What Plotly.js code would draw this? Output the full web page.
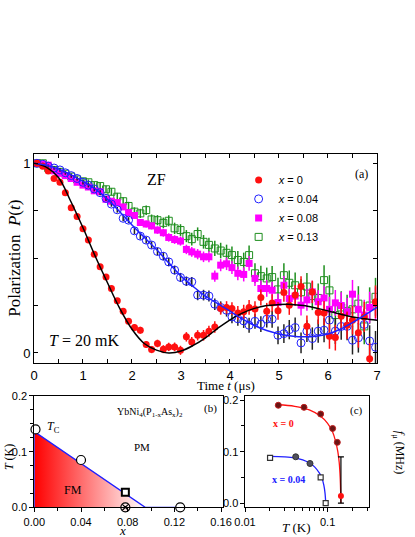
<!DOCTYPE html>
<html>
<head>
<meta charset="utf-8">
<script src="https://cdn.plot.ly/plotly-3.0.1.min.js"></script>
<style>
  html, body { margin: 0; padding: 0; background: #fff; }
  #chart { width: 415px; height: 537px; }
</style>
</head>
<body>
<div id="chart"></div>
<script>
// ---- panel (a): ZF muSR polarization at T = 20 mK ----
const tMu = [0.06,0.18,0.29,0.41,0.53,0.64,0.76,0.88,1.00,1.11,
             1.23,1.35,1.47,1.58,1.70,1.82,1.93,2.05,2.17,2.29,
             2.40,2.52,2.64,2.75,2.87,2.99,3.11,3.22,3.34,3.46,
             3.57,3.69,3.81,3.93,4.04,4.16,4.28,4.39,4.51,4.63,
             4.75,4.86,4.98,5.10,5.21,5.33,5.45,5.57,5.68,5.80,
             5.92,6.03,6.15,6.27,6.39,6.50,6.62,6.74,6.85,6.97];

const pX0 = [1.00,0.985,0.96,0.92,0.90,0.845,0.765,0.72,0.655,0.595,
             0.52,0.455,0.40,0.34,0.275,0.22,0.167,0.134,0.12,0.044,
             0.018,0.05,0.02,0.032,0.032,0.014,0.085,0.058,0.093,0.093,
             0.115,0.137,0.234,0.24,0.234,0.211,0.217,0.24,0.232,0.292,
             0.22,0.264,0.222,0.319,0.252,0.305,0.35,0.141,0.322,0.213,
             0.211,0.088,0.081,0.194,0.146,0.173,0.106,0.19,-0.03,0.27];

const pX004 = [1.00,0.995,0.985,0.975,0.965,0.95,0.935,0.92,0.90,0.885,
               0.865,0.845,0.815,0.785,0.755,0.71,0.70,0.644,0.616,0.595,
               0.569,0.535,0.51,0.48,0.437,0.398,0.378,0.375,0.305,0.305,
               0.30,0.257,0.24,0.225,0.19,0.18,0.169,0.146,0.167,0.152,
               0.178,0.178,0.093,0.102,0.123,0.134,0.053,0.115,0.076,0.115,
               0.12,0.173,0.115,0.14,0.14,0.067,0.08,0.15,0.063,0.03];

const pX008 = [1.00,0.995,0.99,0.96,0.947,0.935,0.92,0.90,0.885,0.875,
               0.855,0.85,0.81,0.80,0.793,0.77,0.74,0.725,0.688,0.68,
               0.67,0.648,0.634,0.609,0.598,0.59,0.546,0.533,0.521,0.507,
               0.507,0.405,0.463,0.47,0.45,0.42,0.414,0.472,0.393,0.34,
               0.34,0.331,0.266,0.357,0.287,0.30,0.252,0.28,0.322,0.27,
               0.29,0.23,0.264,0.25,0.217,0.31,0.23,0.20,0.24,0.26];

const pX013 = [1.00,1.00,0.975,0.965,0.955,0.945,0.93,0.915,0.905,0.90,
               0.885,0.88,0.863,0.85,0.824,0.80,0.775,0.745,0.736,0.753,
               0.704,0.70,0.686,0.697,0.657,0.648,0.616,0.60,0.627,0.586,
               0.57,0.551,0.54,0.528,0.516,0.49,0.48,0.516,0.42,0.405,
               0.393,0.40,0.335,0.41,0.37,0.357,0.32,0.35,0.30,0.29,
               0.384,0.33,0.20,0.24,0.22,0.23,0.26,0.14,0.25,0.296];

const errSmall = [0.008,0.008,0.009,0.009,0.01,0.01,0.011,0.011,0.012,0.012,
                  0.013,0.013,0.014,0.014,0.015,0.016,0.016,0.017,0.018,0.018,
                  0.019,0.02,0.021,0.022,0.023,0.024,0.025,0.026,0.027,0.028,
                  0.029,0.03,0.032,0.033,0.034,0.036,0.037,0.039,0.04,0.042,
                  0.044,0.045,0.047,0.049,0.051,0.053,0.055,0.057,0.059,0.061,
                  0.063,0.066,0.068,0.07,0.073,0.075,0.078,0.08,0.083,0.086];

const errLarge = [0.01,0.01,0.011,0.011,0.012,0.012,0.013,0.014,0.014,0.015,
                  0.016,0.017,0.018,0.019,0.02,0.021,0.022,0.023,0.024,0.025,
                  0.026,0.027,0.028,0.029,0.03,0.031,0.032,0.034,0.035,0.036,
                  0.038,0.04,0.041,0.043,0.045,0.047,0.049,0.051,0.053,0.055,
                  0.057,0.059,0.061,0.063,0.065,0.067,0.07,0.072,0.074,0.076,
                  0.078,0.08,0.083,0.085,0.087,0.09,0.092,0.094,0.096,0.1];

// fit curves
const fitT = [0,0.25,0.5,0.75,1,1.25,1.5,1.75,2,2.25,2.5,2.75,3,3.25,3.5,
              3.75,4,4.25,4.5,4.75,5,5.25,5.5,5.75,6,6.25,6.5,6.75,7];
const fitX0 = [1,0.98,0.925,0.80,0.66,0.51,0.37,0.235,0.125,0.05,0.015,0.0,0.01,0.04,0.08,
               0.13,0.175,0.21,0.235,0.25,0.255,0.256,0.25,0.237,0.222,0.205,0.19,0.18,0.172];
const fitX004 = [1,0.99,0.97,0.94,0.905,0.865,0.81,0.745,0.675,0.61,0.545,0.475,0.405,0.35,0.30,
                 0.26,0.22,0.18,0.145,0.118,0.10,0.09,0.085,0.088,0.10,0.125,0.16,0.2,0.24];

// ---- panel (b): phase diagram ----
const tcX = [0.001, 0.04, 0.125];       // open circles
const tcY = [0.14, 0.085, 0.0];
const sqX = [0.078];                    // open square
const sqY = [0.027];
const qcX = [0.078];                    // crossed circle
const qcY = [0.0];
const bndX = [0, 0, 0.095, 0.125];      // phase boundary (blue)
const bndY = [0, 0.136, 0, 0];
const fmX = [0, 0, 0.095];              // FM region
const fmY = [0, 0.136, 0];

// ---- panel (c): f_mu vs T ----
const cX0T = [0.0253, 0.0518, 0.0824, 0.115, 0.131];
const cX0F = [0.19, 0.186, 0.173, 0.145, 0.118];
const cX0LastT = [0.145];
const cX0LastF = [0.014];
const cX0LastErr = [0.076];
const cX04SqT = [0.0201, 0.0824, 0.0948];
const cX04SqF = [0.088, 0.05, 0.0];
const cX04CiT = [0.0411, 0.0612];
const cX04CiF = [0.09, 0.077];
const curveX0T = [0.025,0.04,0.06,0.08,0.1,0.115,0.125,0.133,0.138,0.142,0.144,0.145];
const curveX0F = [0.191,0.188,0.181,0.17,0.155,0.138,0.12,0.10,0.08,0.05,0.02,0.0];
const curveX04T = [0.02,0.03,0.04,0.05,0.06,0.07,0.08,0.085,0.09,0.093,0.095];
const curveX04F = [0.091,0.09,0.088,0.084,0.078,0.07,0.058,0.05,0.035,0.02,0.0];
const fTicks = [0, 0.1, 0.2];
const fTickText = ['0.0', '0.1', '0.2'];

const RED = '#ff1010', BLUE = '#2020ff', MAG = '#ff00ff', GRN = '#1f8f1f';
const SERIF = 'Liberation Serif, Times New Roman, serif';
const SANS = 'Liberation Sans, Arial, sans-serif';

const data = [
    // panel (a) data, drawn back to front
    {x: tMu, y: pX013, type: 'scatter', mode: 'markers', name: '<i>x</i> = 0.13', legendrank: 4,
     marker: {symbol: 'square-open', size: 7, color: GRN, line: {width: 1}},
     error_y: {type: 'data', array: errLarge, color: GRN, thickness: 1.5, width: 0}},
    {x: tMu, y: pX008, type: 'scatter', mode: 'markers', name: '<i>x</i> = 0.08', legendrank: 3,
     marker: {symbol: 'square', size: 7, color: MAG},
     error_y: {type: 'data', array: errSmall, color: MAG, thickness: 1.5, width: 0}},
    {x: tMu, y: pX004, type: 'scatter', mode: 'markers', name: '<i>x</i> = 0.04', legendrank: 2,
     marker: {symbol: 'circle-open', size: 8, color: BLUE, line: {width: 1}},
     error_y: {type: 'data', array: errSmall, color: '#222', thickness: 1.5, width: 0}},
    {x: tMu, y: pX0, type: 'scatter', mode: 'markers', name: '<i>x</i> = 0', legendrank: 1,
     marker: {symbol: 'circle', size: 7, color: RED},
     error_y: {type: 'data', array: errSmall, color: RED, thickness: 1.5, width: 0}},
    {x: fitT, y: fitX0, type: 'scatter', mode: 'lines', showlegend: false,
     line: {color: '#000', width: 1.5, shape: 'spline'}},
    {x: fitT, y: fitX004, type: 'scatter', mode: 'lines', showlegend: false,
     line: {color: BLUE, width: 1.5, shape: 'spline'}},

    // panel (b)
    {x: fmX, y: fmY, xaxis: 'x2', yaxis: 'y2', type: 'scatter', mode: 'none', showlegend: false,
     fill: 'toself', fillgradient: {type: 'horizontal', colorscale: [[0, '#ff0000'], [1, '#ffffff']]}},
    {x: bndX, y: bndY, xaxis: 'x2', yaxis: 'y2', type: 'scatter', mode: 'lines', showlegend: false,
     cliponaxis: false, line: {color: BLUE, width: 1.3}},
    {x: tcX, y: tcY, xaxis: 'x2', yaxis: 'y2', type: 'scatter', mode: 'markers', showlegend: false,
     cliponaxis: false, marker: {symbol: 'circle', size: 9, color: '#fff', line: {color: '#000', width: 1.2}}},
    {x: sqX, y: sqY, xaxis: 'x2', yaxis: 'y2', type: 'scatter', mode: 'markers', showlegend: false,
     cliponaxis: false, marker: {symbol: 'square', size: 7, color: '#fff', line: {color: '#000', width: 2}}},
    {x: qcX, y: qcY, xaxis: 'x2', yaxis: 'y2', type: 'scatter', mode: 'markers', showlegend: false,
     cliponaxis: false, marker: {symbol: 'circle-x', size: 9, color: '#fde8e8', line: {color: '#000', width: 1.2}}},

    // panel (c)
    {x: curveX0T, y: curveX0F, xaxis: 'x3', yaxis: 'y3', type: 'scatter', mode: 'lines', showlegend: false,
     line: {color: RED, width: 1.3, shape: 'spline'}},
    {x: curveX04T, y: curveX04F, xaxis: 'x3', yaxis: 'y3', type: 'scatter', mode: 'lines', showlegend: false,
     line: {color: BLUE, width: 1.3, shape: 'spline'}},
    {x: cX0T, y: cX0F, xaxis: 'x3', yaxis: 'y3', type: 'scatter', mode: 'markers', showlegend: false,
     marker: {symbol: 'circle', size: 6, color: '#6a1414', line: {color: '#c02020', width: 1}}},
    {x: cX0LastT, y: cX0LastF, xaxis: 'x3', yaxis: 'y3', type: 'scatter', mode: 'markers', showlegend: false,
     cliponaxis: false, marker: {symbol: 'circle', size: 6, color: RED},
     error_y: {type: 'data', symmetric: false, array: cX0LastErr, arrayminus: cX0LastF, color: '#000', thickness: 1.2, width: 3}},
    {x: cX04CiT, y: cX04CiF, xaxis: 'x3', yaxis: 'y3', type: 'scatter', mode: 'markers', showlegend: false,
     marker: {symbol: 'circle', size: 6, color: '#50505e', line: {color: '#333', width: 1}}},
    {x: cX04SqT, y: cX04SqF, xaxis: 'x3', yaxis: 'y3', type: 'scatter', mode: 'markers', showlegend: false,
     cliponaxis: false, marker: {symbol: 'square', size: 5, color: '#fff', line: {color: '#333', width: 1.2}}}
];

const axBase = {
    showline: true, linecolor: '#000', linewidth: 1, mirror: 'ticks',
    ticks: 'inside', ticklen: 4, tickcolor: '#000', showgrid: false, zeroline: false,
    tickfont: {family: SANS, size: 13, color: '#000'}
};
const minorBase = {ticks: 'inside', ticklen: 4, tickcolor: '#000', showgrid: false};
const smallAx = {mirror: true, ticks: 'outside', ticklen: 4,
                 tickfont: {family: SANS, size: 11, color: '#000'}};
const smallMinor = {ticks: 'outside', ticklen: 3, tickcolor: '#000', showgrid: false};

function ann(text, x, y, size, extra) {
    return Object.assign({text: text, x: x, y: y, xref: 'paper', yref: 'paper', showarrow: false,
                          xanchor: 'center', yanchor: 'middle',
                          font: {family: SERIF, size: size, color: '#000'}}, extra || {});
}

// tick labels of the f_mu axis, placed on that axis' own scale
const fLabels = fTicks.map((v, i) => ({
    text: fTickText[i], x: 0.5904, xref: 'paper', xanchor: 'right', xshift: -5,
    y: v, yref: 'y3', yanchor: 'middle', showarrow: false,
    font: {family: SANS, size: 11, color: '#000'}
}));

const layout = {
    width: 415, height: 537,
    margin: {l: 0, r: 0, t: 0, b: 0},
    paper_bgcolor: '#fff', plot_bgcolor: '#fff',
    showlegend: true,
    legend: {x: 0.575, y: 0.692, xanchor: 'left', yanchor: 'top', bgcolor: 'rgba(0,0,0,0)',
             font: {family: SANS, size: 11, color: '#000'}, itemwidth: 30, tracegroupgap: 0},
    xaxis: Object.assign({}, axBase, {domain: [0.0819, 0.9084], anchor: 'y', range: [0, 7], dtick: 1,
             minor: Object.assign({}, minorBase, {dtick: 0.5})}),
    yaxis: Object.assign({}, axBase, {domain: [0.324, 0.7132], anchor: 'x', range: [-0.053, 1.049],
             tickvals: [0, 0.25, 0.5, 0.75, 1], ticktext: ['0', '', '', '', '1']}),
    xaxis2: Object.assign({}, axBase, smallAx, {domain: [0.0827, 0.5366], anchor: 'y2', range: [0, 0.1614],
             dtick: 0.04, tickformat: '.2f', minor: Object.assign({}, smallMinor, {dtick: 0.02})}),
    yaxis2: Object.assign({}, axBase, smallAx, {domain: [0.0553, 0.2626], anchor: 'x2', range: [0, 0.2],
             dtick: 0.1, tickformat: '.1f', minor: Object.assign({}, smallMinor, {dtick: 0.025})}),
    xaxis3: Object.assign({}, axBase, smallAx, {domain: [0.5904, 0.8899], anchor: 'y3', type: 'log', range: [-2, -0.495],
             tickvals: [0.01, 0.1], ticktext: ['0.01', '0.1'],
             minor: Object.assign({}, smallMinor, {
                 tickvals: [0.02, 0.03, 0.04, 0.05, 0.06, 0.07, 0.08, 0.09, 0.2, 0.3]})}),
    yaxis3: Object.assign({}, axBase, smallAx, {domain: [0.0553, 0.2626], anchor: 'x3',
             range: [-0.008, 0.208], tickvals: fTicks, showticklabels: false,
             minor: Object.assign({}, smallMinor, {tickvals: [0.05, 0.15]})}),
    annotations: [
        ann('Polarization  <i>P</i>(<i>t</i>)', 0.036, 0.52, 17, {textangle: -90}),
        ann('Time <i>t</i> (μs)', 0.545, 0.283, 13),
        ann('ZF', 0.378, 0.665, 16),
        ann('(a)', 0.872, 0.676, 12),
        ann('<i>T</i> = 20 mK', 0.202, 0.365, 16),
        ann('<i>T</i><sub>C</sub>', 0.108, 0.205, 12, {xanchor: 'left'}),
        ann('YbNi<sub>4</sub>(P<sub>1-x</sub>As<sub>x</sub>)<sub>2</sub>', 0.361, 0.231, 10),
        ann('(b)', 0.508, 0.24, 11),
        ann('PM', 0.341, 0.168, 11),
        ann('FM', 0.175, 0.0875, 12),
        ann('<i>T</i> (K)', 0.022, 0.149, 12, {textangle: -90}),
        ann('<i>x</i>', 0.294, 0.013, 13),
        ann('<b>x = 0</b>', 0.683, 0.212, 10, {font: {family: SERIF, size: 10, color: RED}}),
        ann('<b>x = 0.04</b>', 0.695, 0.107, 10, {font: {family: SERIF, size: 10, color: BLUE}}),
        ann('(c)', 0.859, 0.236, 11),
        ann('<i>f</i><sub>μ</sub> (MHz)', 0.96, 0.156, 12, {textangle: 90}),
        ann('<i>T</i> (K)', 0.715, 0.017, 13)
    ].concat(fLabels)
};

Plotly.newPlot('chart', data, layout, {displayModeBar: false, staticPlot: true});
</script>
</body>
</html>
